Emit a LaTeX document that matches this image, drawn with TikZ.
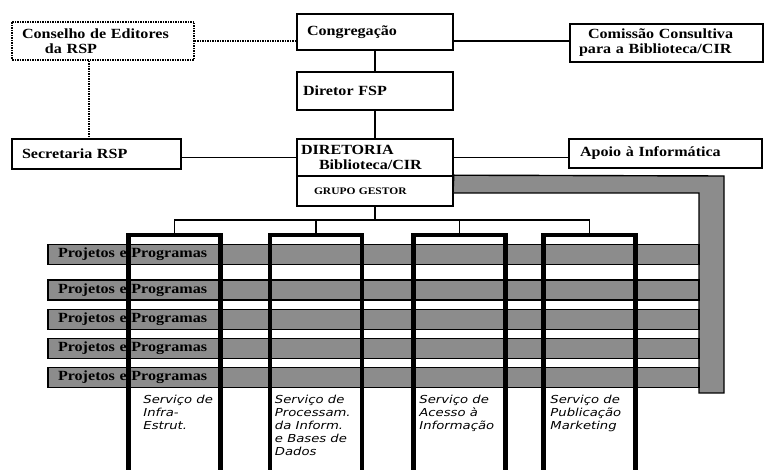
\documentclass[tikz,border=0pt]{standalone}
\usepackage{fontspec}
\setmainfont{Liberation Serif}[FakeStretch=1.15]
\newfontfamily\servfont{DejaVu Sans}[FakeStretch=1.2]
\definecolor{barfill}{RGB}{140,140,140}
\tikzset{
  box/.style={draw, line width=1.6pt, inner ysep=0pt, align=left, font=\fontsize{14}{15}\selectfont\bfseries},
  dotbox/.style={box, dash pattern=on 1.5pt off 1pt},
  rowbar/.style={draw, line width=1.4pt, fill=barfill, text width=631pt, inner xsep=10pt, inner ysep=0pt, minimum height=20pt, align=left, font=\fontsize{14}{15}\selectfont\bfseries},
  servcol/.style={draw, line width=4.5pt, minimum width=92pt, minimum height=245pt},
  servtext/.style={inner sep=0pt, anchor=north west, align=left, font=\servfont\itshape\fontsize{11}{13}\selectfont},
  link/.style={line width=1.1pt},
}
\begin{document}
\begin{tikzpicture}[x=1pt,y=-1pt]
  \clip (0,0) rectangle (764,470);
  \node[dotbox, text width=162pt, inner xsep=10pt, minimum height=38pt] (cons) at (103,41) {Conselho de Editores\\\hspace*{23pt}da RSP};
  \node[box, text width=136pt, inner xsep=10pt, minimum height=36pt] (cong) at (375,32) {Congregação};
  \node[box, text width=175pt, inner xsep=9pt, minimum height=38pt] (com) at (666.5,43) {\hspace*{9pt}Comissão Consultiva\\para a Biblioteca/CIR};
  \node[box, text width=144pt, inner xsep=6pt, minimum height=38pt] (dir) at (375,91) {Diretor FSP};
  \node[box, text width=149pt, inner xsep=10pt, minimum height=30pt] (secr) at (96.5,154) {Secretaria RSP};
  \node[box, text width=148pt, inner xsep=4pt, minimum height=37pt] (dirt) at (375,157.5) {DIRETORIA\\\hspace*{18pt}Biblioteca/CIR};
  \node[box, text width=122pt, inner xsep=17pt, minimum height=30pt, font=\fontsize{10}{11}\selectfont\bfseries] (grupo) at (375,191) {GRUPO GESTOR};
  \node[box, text width=171pt, inner xsep=11pt, minimum height=29pt] (apoio) at (665.5,153.5) {Apoio à Informática};

  \draw[link, dash pattern=on 1.5pt off 1pt] (cons.east) -- (cons.east -| cong.west);
  \draw[link, dash pattern=on 1.5pt off 1pt] ([xshift=-14pt]cons.south) -- ([xshift=-14pt]cons.south |- secr.north);
  \draw[link] (cong.east |- cons.east) -- (cons.east -| com.west);
  \draw[link] (cong) -- (dir);
  \draw[link] (dir) -- (dirt);
  \draw[link] (dirt.west) -- (dirt.west -| secr.east);
  \draw[link] (dirt.east) -- (dirt.east -| apoio.west);

  \filldraw[fill=barfill, line width=1.4pt] (grupo.north east) -- (724,176) -- (724,393) -- (699,393) -- (699,193) -- (453,193) -- cycle;
  \foreach \y [count=\i] in {254.5,290,319.5,348.5,377.5}
    \node[rowbar] (r\i) at (373.5,\y) {Projetos e Programas};

  \node[servcol] (c1) at (174.5,357.5) {};
  \node[servcol] (c2) at (316,357.5) {};
  \node[servcol] (c3) at (459.5,357.5) {};
  \node[servcol] (c4) at (589.5,357.5) {};
  \node[servtext] (t1) at ([xshift=17pt,yshift=-162pt]c1.north west) {Serviço de\\Infra-\\Estrut.};
  \node[servtext] (t2) at ([xshift=7pt,yshift=-162pt]c2.north west) {Serviço de\\Processam.\\da Inform.\\e Bases de\\Dados};
  \node[servtext] (t3) at ([xshift=8pt,yshift=-162pt]c3.north west) {Serviço de\\Acesso à\\Informação};
  \node[servtext] (t4) at ([xshift=9pt,yshift=-162pt]c4.north west) {Serviço de\\Publicação\\Marketing};

  \coordinate (bus) at (375,220);
  \draw[link] (grupo.south) -- (bus);
  \foreach \c in {c1,c2,c3,c4}
    \draw[link] (\c.north) -- (\c.north |- bus) -- (bus);
\end{tikzpicture}
\end{document}
